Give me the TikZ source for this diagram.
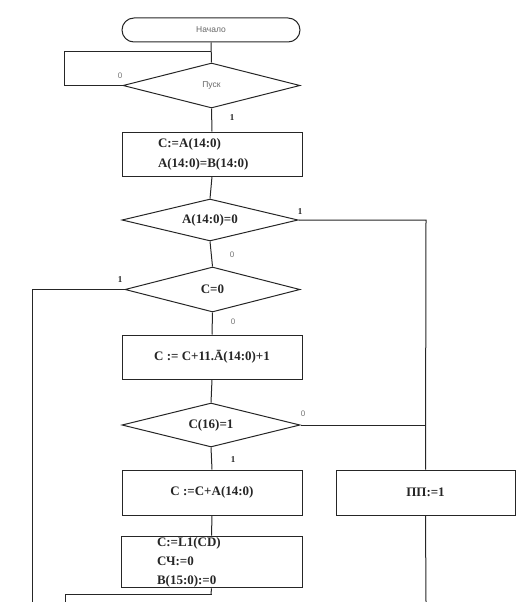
\documentclass[tikz,border=0pt]{standalone}
\usepackage{fontspec}
\setmainfont{Liberation Serif}
\newfontfamily\lsans{Liberation Sans}
\usetikzlibrary{shapes.geometric}
\begin{document}
\begin{tikzpicture}[x=1pt,y=-1pt,
  line width=1pt,
  ln/.style={draw=black!85},
  box/.style={draw=black!85, rectangle, minimum width=180pt, minimum height=44pt, inner sep=1pt, font=\fontsize{13}{15}\selectfont\bfseries, text=black!85},
  dec/.style={draw=black!85, diamond, aspect=4, minimum width=177pt, minimum height=44pt, inner sep=0pt, font=\fontsize{13}{15}\selectfont\bfseries, text=black!85},
  term/.style={draw=black!85, rectangle, rounded corners=12pt, minimum width=178pt, minimum height=24pt, inner sep=0pt, font=\lsans\fontsize{8.5}{10}\selectfont, text=black!60},
  lab/.style={font=\lsans\fontsize{8}{9}\selectfont, text=black!55, inner sep=0pt},
  labone/.style={font=\fontsize{9}{10}\selectfont\bfseries, text=black!85, inner sep=0pt}
]
\useasboundingbox (0,0) rectangle (530,602);

\node[term] (start) at (211,30) {Начало};
\node[dec, minimum width=177pt, minimum height=45pt, font=\lsans\fontsize{8.5}{10}\selectfont, text=black!60] (d1) at (211.5,85.5) {Пуск};
\node[box, text width=108pt, align=left] (b1) at (212,154) {C:=A(14:0)\\[5pt]A(14:0)=B(14:0)};
\node[dec, minimum width=176pt, minimum height=42pt] (d2) at (210,220) {A(14:0)=0};
\node[dec, minimum width=175pt, minimum height=45pt] (d3) at (212.5,289.5) {C=0};
\node[box] (b2) at (212,357) {C := C+11.Ā(14:0)+1};
\node[dec, minimum width=178pt, minimum height=44pt] (d4) at (211,425) {C(16)=1};
\node[box, minimum height=45pt] (b3) at (212,492.5) {C :=C+A(14:0)};
\node[box, minimum width=179pt, minimum height=45pt] (b4) at (425.5,492.5) {ПП:=1};
\node[box, minimum width=181pt, minimum height=50pt, text width=109pt, align=left] (b5) at (211.5,562) {C:=L1(CD)\\[4pt]СЧ:=0\\[4pt]B(15:0):=0};

\coordinate (loopj) at (211,52);
\coordinate (loopa) at (64,52);
\coordinate (loopb) at (64,85.5);
\coordinate (r1) at (426,220);
\coordinate (r2) at (426,425);
\coordinate (rend) at (426,602);
\coordinate (l1) at (32,289.5);
\coordinate (lend) at (32,602);
\coordinate (b6top) at (211,594);
\coordinate (b6l) at (65,594);
\coordinate (b6lb) at (65,602);

\draw[ln] (start.south) -- (d1.north);
\draw[ln] (d1.west) -- (loopb) -- (loopa) -- (loopj);
\draw[ln] (d1.south) -- (b1.north);
\draw[ln] (b1.south) -- (d2.north);
\draw[ln] (d2.east) -- (r1) -- (b4.north);
\draw[ln] (b4.south) -- (rend);
\draw[ln] (d4.east) -- (r2);
\draw[ln] (d2.south) -- (d3.north);
\draw[ln] (d3.west) -- (l1) -- (lend);
\draw[ln] (d3.south) -- (b2.north);
\draw[ln] (b2.south) -- (d4.north);
\draw[ln] (d4.south) -- (b3.north);
\draw[ln] (b3.south) -- (b5.north);
\draw[ln] (b5.south) -- (b6top);
\draw[ln] (b6lb) -- (b6l) -- ([xshift=1pt]b6top);

\node[lab] (l0a) at (120,76) {0};
\node[labone] (l1a) at (232,118) {1};
\node[labone] (l1b) at (300,212) {1};
\node[lab] (l0b) at (232,255) {0};
\node[labone] (l1c) at (120,280) {1};
\node[lab] (l0c) at (233,322) {0};
\node[lab] (l0d) at (303,414) {0};
\node[labone] (l1d) at (233,460) {1};
\end{tikzpicture}
\end{document}
